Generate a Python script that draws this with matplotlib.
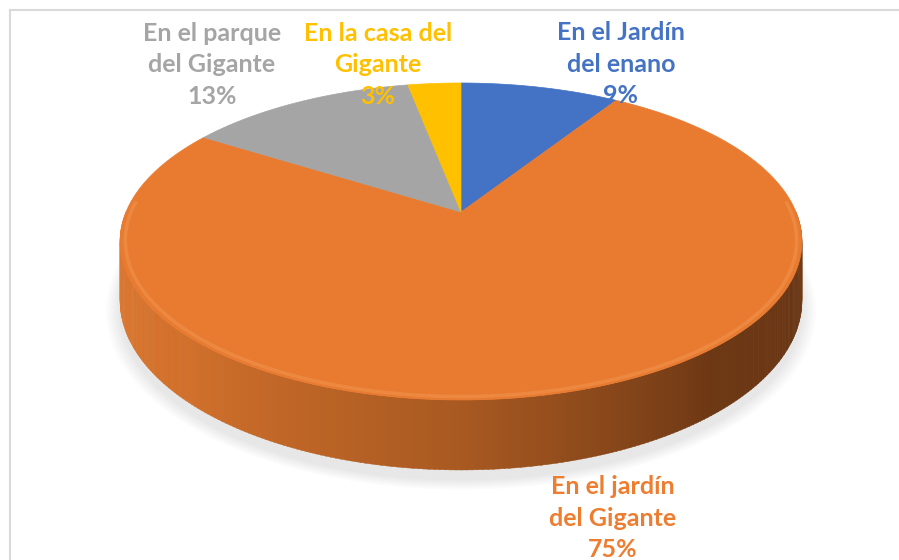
import numpy as np
import matplotlib
matplotlib.use('Agg')
import matplotlib.pyplot as plt
from matplotlib.patches import Polygon
from matplotlib.lines import Line2D

# data
categories = ['En el Jardín\ndel enano', 'En el jardín\ndel Gigante',
              'En el parque\ndel Gigante', 'En la casa del\nGigante']
values = [9, 75, 13, 3]
colors = ['#4472C4', '#E97B31', '#A5A5A5', '#FFC000']
label_colors = ['#4472C4', '#ED7D31', '#A5A5A5', '#FFC000']
label_pos = [(621, 64), (613, 518), (212, 65), (378, 65)]

# layout of the 3d disk (pixel space)
cx, cy = 461, 212
a, b, c = 335, 153, 57
k = 0.186


def proj(X, Y, Z=0.0):
    w = 1 + k * Y
    return cx + a * X / w, cy + (-b * Y - c * Z) / w


fig = plt.figure(figsize=(8.99, 5.6), dpi=100)
ax = fig.add_axes([0, 0, 1, 1])
ax.set_xlim(0, 899)
ax.set_ylim(560, 0)
ax.axis('off')

# chart border (top and left visible)
fig.add_artist(Line2D([10 / 899, 10 / 899], [-0.1, 1 - 10 / 560], color='#D9D9D9', lw=1.5))
fig.add_artist(Line2D([10 / 899, 1.1], [1 - 10 / 560, 1 - 10 / 560], color='#D9D9D9', lw=1.5))

# soft shadow under the disk
th = np.linspace(0, 2 * np.pi, 300)
for s in np.linspace(1.035, 1.0, 6):
    X, Y = np.cos(th) * s, np.sin(th) * s
    sx, sy = proj(X, Y - 0.02, -1.08)
    ax.add_patch(Polygon(np.column_stack([sx, sy]), closed=True, fc='#909090',
                         ec='none', alpha=0.035, zorder=1))

# side of the disk, strips coloured by angle
stops_t = [0.0, 0.25, 0.5, 0.72, 0.88, 1.0]
stops_c = np.array([[0.88, 0.48, 0.20], [0.82, 0.44, 0.17], [0.66, 0.35, 0.13],
                    [0.43, 0.22, 0.08], [0.41, 0.21, 0.08], [0.47, 0.25, 0.10]])
n = 240
phis = np.linspace(np.pi, 2 * np.pi, n + 1)
for i in range(n):
    p1, p2 = phis[i], phis[i + 1] + 0.002
    t = ((p1 + p2) / 2 - np.pi) / np.pi
    col = [np.interp(t, stops_t, stops_c[:, j]) for j in range(3)]
    x1, y1 = proj(np.cos(p1), np.sin(p1), 0)
    x2, y2 = proj(np.cos(p2), np.sin(p2), 0)
    x3, y3 = proj(np.cos(p2), np.sin(p2), -1)
    x4, y4 = proj(np.cos(p1), np.sin(p1), -1)
    ax.add_patch(Polygon([[x1, y1], [x2, y2], [x3, y3], [x4, y4]], closed=True,
                         fc=col, ec=col, lw=0.3, zorder=2))

# top face slices, clockwise from 12 o'clock
start = 90.0
total = float(sum(values))
for v, col in zip(values, colors):
    sweep = 360.0 * v / total
    angs = np.radians(np.linspace(start, start - sweep, max(int(sweep), 2) + 1))
    sx, sy = proj(np.cos(angs), np.sin(angs), 0)
    pts = np.vstack([[cx, cy], np.column_stack([sx, sy])])
    ax.add_patch(Polygon(pts, closed=True, fc=col, ec=col, lw=0.5, zorder=3))
    start -= sweep

# bevel highlight along the front rim
rim = np.linspace(np.pi * 0.98, 2.02 * np.pi, 200)
rx, ry = proj(np.cos(rim) * 0.985, np.sin(rim) * 0.985, 0)
ax.plot(rx, ry, color='#F39A55', lw=2.5, alpha=0.45, zorder=4, solid_capstyle='round')

# labels
for lab, v, col, (lx, ly) in zip(categories, values, label_colors, label_pos):
    ax.text(lx, ly, '%s\n%d%%' % (lab, v), color=col, ha='center', va='center',
            fontsize=18, fontweight='bold', family=['Lato', 'DejaVu Sans'],
            linespacing=1.45, zorder=5)

fig.savefig('out.png', dpi=100)
